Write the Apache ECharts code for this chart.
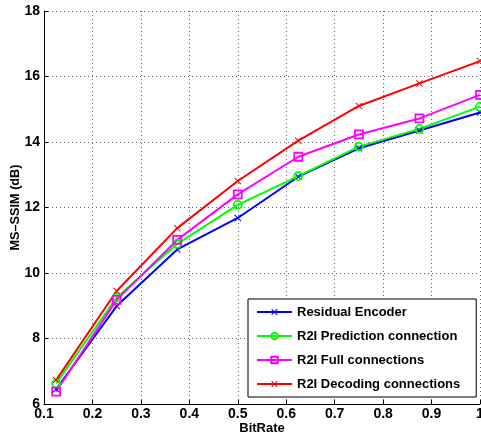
<!DOCTYPE html>
<html>
<head>
<meta charset="utf-8">
<script src="https://cdn.jsdelivr.net/npm/echarts@6/dist/echarts.min.js"></script>
<style>
  html, body { margin: 0; padding: 0; background: #fff; }
  #chart { width: 481px; height: 434px; }
</style>
</head>
<body>
<div id="chart"></div>
<script>
// bit rates of the eight measured points
const bitRates = [0.125, 0.25, 0.375, 0.5, 0.625, 0.75, 0.875, 1.0];

const residualEncoder = [6.45, 8.99, 10.72, 11.68, 12.94, 13.81, 14.35, 14.90];
const r2iPrediction = [6.63, 9.25, 10.89, 12.08, 12.96, 13.86, 14.40, 15.08];
const r2iFull = [6.38, 9.18, 11.01, 12.40, 13.55, 14.23, 14.72, 15.44];
const r2iDecoding = [6.73, 9.45, 11.37, 12.81, 14.04, 15.10, 15.79, 16.47];

const seriesNames = [
    'Residual Encoder',
    'R2I Prediction connection',
    'R2I Full connections',
    'R2I Decoding connections'
];

const xTicks = ['0.1', '0.2', '0.3', '0.4', '0.5', '0.6', '0.7', '0.8', '0.9', '1'];

const crossPath = 'path://M0,1L1,0L5,4L9,0L10,1L6,5L10,9L9,10L5,6L1,10L0,9L4,5Z';
const font = 'Liberation Sans, Arial, sans-serif';

const chart = echarts.init(document.getElementById('chart'));

const pairs = (ys) => bitRates.map((x, i) => [x, ys[i]]);

const makeSeries = (name, ys, color, symbol, filled) => ({
    name: name,
    type: 'line',
    data: pairs(ys),
    symbol: symbol,
    symbolSize: filled ? 7 : 8,
    showAllSymbol: true,
    lineStyle: { color: color, width: 2 },
    itemStyle: filled
        ? { color: color }
        : { color: 'rgba(255,255,255,0)', borderColor: color, borderWidth: 1.8 },
    emphasis: { disabled: true },
    animation: false
});

const option = {
    backgroundColor: '#fff',
    grid: { left: 44, right: 1, top: 11, bottom: 30, containLabel: false, outerBoundsMode: 'none' },
    xAxis: {
        type: 'value',
        min: 0.1,
        max: 1,
        interval: 0.1,
        name: 'BitRate',
        nameLocation: 'middle',
        nameGap: 18,
        nameMoveOverlap: false,
        nameTextStyle: { fontFamily: font, fontWeight: 'bold', fontSize: 13, color: '#000' },
        axisLine: { lineStyle: { color: '#000', width: 1 } },
        axisTick: { inside: true, length: 4, lineStyle: { color: '#000' } },
        axisLabel: {
            margin: 3,
            fontFamily: font, fontWeight: 'bold', fontSize: 14, color: '#000',
            formatter: (v) => xTicks[Math.round(v * 10) - 1] || ''
        },
        splitLine: { show: true, lineStyle: { color: '#666', type: [1, 3], width: 1 } }
    },
    yAxis: {
        type: 'value',
        min: 6,
        max: 18,
        interval: 2,
        name: 'MS\u2013SSIM (dB)',
        nameLocation: 'middle',
        nameGap: 22,
        nameMoveOverlap: false,
        nameTextStyle: { fontFamily: font, fontWeight: 'bold', fontSize: 12.7, color: '#000' },
        axisLine: { show: true, lineStyle: { color: '#000', width: 1 } },
        axisTick: { show: true, inside: true, length: 4, lineStyle: { color: '#000' } },
        axisLabel: { margin: 4, fontFamily: font, fontWeight: 'bold', fontSize: 14, color: '#000' },
        splitLine: { show: true, lineStyle: { color: '#666', type: [1, 3], width: 1 } }
    },
    legend: {
        data: seriesNames,
        orient: 'vertical',
        left: 248,
        top: 299,
        itemWidth: 35,
        itemHeight: 8,
        itemGap: 11,
        padding: [6.5, 16, 6.5, 8],
        backgroundColor: '#fff',
        borderColor: '#000',
        borderWidth: 1,
        selectedMode: false,
        textStyle: { fontFamily: font, fontWeight: 'bold', fontSize: 13, color: '#000' }
    },
    series: [
        makeSeries(seriesNames[0], residualEncoder, '#0000ff', crossPath, true),
        makeSeries(seriesNames[1], r2iPrediction, '#00ff00', 'circle', false),
        makeSeries(seriesNames[2], r2iFull, '#ff00ff', 'rect', false),
        makeSeries(seriesNames[3], r2iDecoding, '#ff0000', crossPath, true)
    ]
};

chart.setOption(option);
</script>
</body>
</html>
